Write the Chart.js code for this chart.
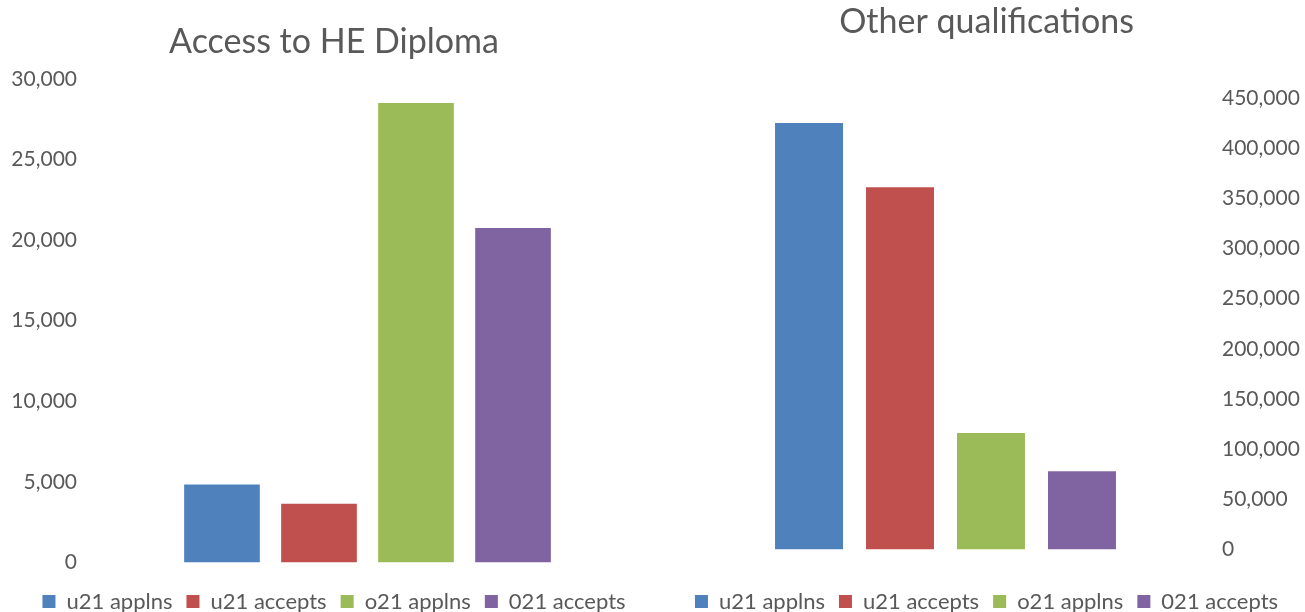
<!DOCTYPE html>
<html>
<head>
<meta charset="utf-8">
<script src="https://cdn.jsdelivr.net/npm/chart.js@4.4.0/dist/chart.umd.min.js"></script>
<style>
    html, body { margin: 0; background: #fff; overflow: hidden; width: 1305px; height: 612px; }
    #leftBox { position: absolute; left: 0; top: 0; }
    #rightBox { position: absolute; left: 668px; top: 0; }
</style>
</head>
<body>
<div id="leftBox"><canvas id="accessChart" width="668" height="624"></canvas></div>
<div id="rightBox"><canvas id="otherChart" width="637" height="624"></canvas></div>
<script>
const seriesNames = ["u21 applns", "u21 accepts", "o21 applns", "021 accepts"];
const seriesColors = ["#4F81BD", "#C0504D", "#9BBB59", "#8064A2"];
const accessValues = [4830, 3650, 28500, 20750];
const otherValues = [425000, 361000, 116000, 78000];
const accessTicks = [0, 5000, 10000, 15000, 20000, 25000, 30000];
const otherTicks = [0, 50000, 100000, 150000, 200000, 250000, 300000, 350000, 400000, 450000];

const textColor = "#595959";
const fontFamily = "Lato, 'Open Sans', sans-serif";

function buildDatasets(values, catPct, barPct) {
    return seriesNames.map(function (name, i) {
        return {
            label: name,
            data: [values[i]],
            backgroundColor: seriesColors[i],
            categoryPercentage: catPct,
            barPercentage: barPct
        };
    });
}

// empty axis that only takes up room
function spacerAxis(position, size) {
    return {
        position: position,
        display: true,
        afterFit: function (scale) {
            if (position == "bottom") scale.height = size;
            else scale.width = size;
        },
        border: { display: false },
        grid: { display: false, drawTicks: false },
        ticks: { display: false }
    };
}

function createChart(canvasID, title, values, ticks, opts) {
    let canvas = document.getElementById(canvasID);
    const maxTick = ticks[ticks.length - 1];

    return new Chart(canvas, {
        type: "bar",
        data: {
            labels: [""],
            datasets: buildDatasets(values, opts.catPct, opts.barPct)
        },
        options: {
            responsive: false,
            animation: false,
            layout: { padding: { bottom: 1.5 } },
            plugins: {
                title: {
                    display: true,
                    text: title,
                    color: textColor,
                    font: { family: fontFamily, size: 34, weight: "normal" },
                    padding: opts.titlePadding
                },
                legend: {
                    position: "bottom",
                    labels: {
                        color: textColor,
                        font: { family: fontFamily, size: 22 },
                        boxWidth: 13,
                        boxHeight: 13,
                        padding: 14
                    }
                },
                tooltip: { enabled: false }
            },
            scales: {
                x: spacerAxis("bottom", opts.legendGap),
                side: spacerAxis(opts.axisPosition == "left" ? "right" : "left", opts.sideGap),
                y: {
                    position: opts.axisPosition,
                    min: 0,
                    max: maxTick,
                    afterFit: function (scale) { scale.width = opts.axisWidth; },
                    afterBuildTicks: function (scale) {
                        scale.ticks = ticks.map(function (v) { return { value: v }; });
                    },
                    border: { display: false },
                    grid: { display: false, drawTicks: false },
                    ticks: {
                        color: textColor,
                        padding: opts.tickPadding,
                        font: { family: fontFamily, size: 21 },
                        callback: function (v) { return v.toLocaleString("en-GB"); }
                    }
                }
            }
        }
    });
}

createChart("accessChart", "Access to HE Diploma", accessValues, accessTicks, {
    catPct: 0.712,
    barPct: 0.78,
    axisPosition: "left",
    axisWidth: 95,
    tickPadding: 18,
    sideGap: 28,
    legendGap: 14,
    titlePadding: { top: 22, bottom: 16 }
});

createChart("otherChart", "Other qualifications", otherValues, otherTicks, {
    catPct: 0.688,
    barPct: 0.747,
    axisPosition: "right",
    axisWidth: 95,
    tickPadding: 12,
    sideGap: 13,
    legendGap: 27,
    titlePadding: { top: 2, bottom: 55 }
});
</script>
</body>
</html>
